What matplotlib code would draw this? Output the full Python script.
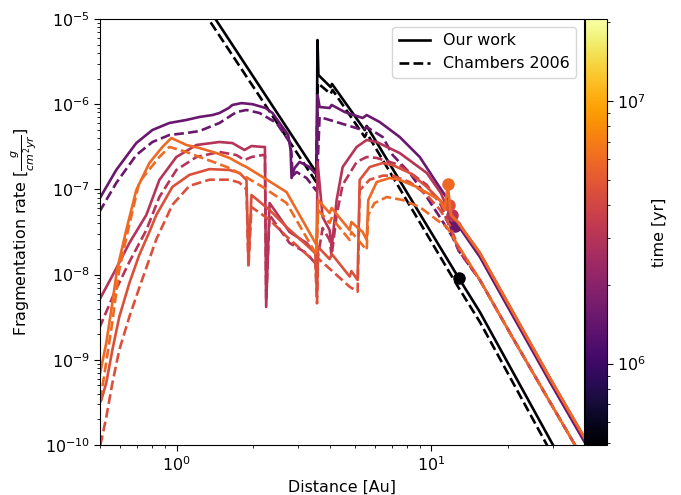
import numpy as np
import matplotlib
matplotlib.use('Agg')
import matplotlib.pyplot as plt
from matplotlib.colors import LogNorm
from matplotlib.lines import Line2D

plt.rcParams['font.size'] = 11.4
plt.rcParams['xtick.major.size'] = 4
plt.rcParams['ytick.major.size'] = 4
plt.rcParams['xtick.minor.size'] = 2.3
plt.rcParams['ytick.minor.size'] = 2.3

# times of the snapshots [yr]
times = [4.9e5, 1.5e6, 3.0e6, 4.5e6, 6.0e6]

# common tail beyond ~12 Au (all snapshots overlap there)
tail_x = [15.49, 20.87, 29.17, 39.7, 41.9]
tail_solid = [1.79e-8, 3.64e-9, 6.1e-10, 1.24e-10, 9.5e-11]
tail_solid_purple = [1.61e-8, 3.27e-9, 5.49e-10, 1.11e-10, 8.6e-11]
tail_dash_x = [15.49, 20.87, 29.17, 36.59, 41.9]
tail_dash = [8.64e-9, 1.80e-9, 3.2e-10, 1.0e-10, 4.95e-11]

# t = 0.5 Myr
black_x = [1.2, 1.419, 3.54, 3.57, 3.6, 4.02, 4.07, 5.47, 5.57, 12.8, 15.49, 30.0, 36.6]
black_y = [2.14e-5, 1.0e-5, 1.56e-7, 5.67e-6, 2.2e-6, 1.59e-6, 1.73e-6, 4.98e-7, 5.55e-7,
           9.1e-9, 3.64e-9, 1.0e-10, 3.5e-11]
black_dx = [1.15, 1.332, 3.53, 3.58, 4.02, 4.09, 5.47, 5.57, 12.8, 15.49, 28.4, 33.4]
black_dy = [1.95e-5, 1.0e-5, 1.22e-7, 1.77e-6, 1.32e-6, 1.47e-6, 4.12e-7, 4.59e-7,
            6.97e-9, 2.78e-9, 1.0e-10, 3.9e-11]

# t = 1.5 Myr
purple_x = [0.497, 0.579, 0.694, 0.803, 0.936, 1.092, 1.228, 1.382, 1.472, 1.60, 1.655, 1.796,
            1.985, 2.233, 2.378, 2.534, 2.74, 2.80, 2.824, 2.902, 3.036, 3.323, 3.541, 3.573,
            3.639, 3.984, 4.057, 4.563, 5.37, 5.568, 6.263, 7.507, 8.995, 10.49, 11.49, 12.02,
            12.35, 12.69]
purple_y = [7.71e-8, 1.69e-7, 3.5e-7, 4.98e-7, 6.02e-7, 6.53e-7, 7.08e-7, 7.46e-7, 7.88e-7,
            9.02e-7, 9.8e-7, 1.03e-6, 1.0e-6, 9.02e-7, 7.88e-7, 6.02e-7, 4.35e-7, 2.9e-7,
            1.36e-7, 1.78e-7, 2.1e-7, 1.83e-7, 1.48e-7, 1.28e-6, 9.27e-7, 9.02e-7, 9.8e-7,
            8.1e-7, 6.89e-7, 7.46e-7, 6.18e-7, 4.12e-7, 2.4e-7, 1.19e-7, 7.93e-8, 3.16e-8,
            3.72e-8, 3.82e-8]
purple_dx = [0.497, 0.579, 0.694, 0.803, 0.936, 1.092, 1.228, 1.472, 1.717, 1.879, 2.114, 2.466,
             2.773, 2.82, 2.85, 2.955, 3.234, 3.541, 3.639, 3.984, 4.361, 5.37, 5.568, 6.436,
             7.045, 8.217, 9.583, 10.78, 12.1, 12.8]
purple_dy = [5.43e-8, 1.19e-7, 2.53e-7, 3.6e-7, 4.35e-7, 4.59e-7, 4.84e-7, 6.02e-7, 8.1e-7,
             8.55e-7, 7.88e-7, 6.02e-7, 3.6e-7, 2.75e-7, 1.44e-7, 1.6e-7, 1.36e-7, 9.57e-8,
             7.08e-7, 6.53e-7, 6.02e-7, 4.98e-7, 5.4e-7, 4.12e-7, 2.53e-7, 1.56e-7, 8.14e-8,
             4.74e-8, 2.76e-8, 1.9e-8]

# t = 3 Myr
magenta_x = [0.497, 0.569, 0.652, 0.760, 0.855, 0.997, 1.195, 1.472, 1.655, 1.845, 1.966, 2.173,
             2.22, 2.245, 2.315, 2.466, 2.773, 3.234, 3.541, 3.573, 3.739, 3.984, 4.057, 4.244,
             4.481, 5.087, 5.568, 6.095, 7.507, 9.583, 10.88, 11.7, 12.0, 12.69]
magenta_y = [5.03e-9, 1.07e-8, 2.35e-8, 5.01e-8, 1.29e-7, 2.4e-7, 3.32e-7, 3.6e-7, 3.5e-7,
             2.9e-7, 3.23e-7, 3.15e-7, 3.15e-7, 4.17e-9, 6.92e-8, 5.28e-8, 3.16e-8, 2.35e-8,
             1.7e-8, 2.1e-7, 4.74e-8, 3.33e-8, 2.05e-8, 7.5e-8, 1.83e-7, 3.15e-7, 3.8e-7, 3.6e-7,
             2.67e-7, 1.56e-7, 9.08e-8, 5.5e-8, 5.0e-8, 4.1e-8]
magenta_dx = [0.497, 0.569, 0.652, 0.760, 0.855, 0.997, 1.195, 1.472, 1.717, 1.845, 1.966, 2.173,
              2.22, 2.245, 2.315, 2.466, 2.773, 3.234, 3.541, 3.739, 3.984, 4.057, 4.244, 4.481,
              5.087, 5.568, 6.095, 7.507, 9.583, 10.88, 12.35, 12.8]
magenta_dy = [2.36e-9, 6.08e-9, 1.41e-8, 3.33e-8, 8.14e-8, 1.69e-7, 2.4e-7, 2.75e-7, 2.53e-7,
              2.21e-7, 2.4e-7, 2.53e-7, 2.53e-7, 5.03e-9, 5.01e-8, 3.82e-8, 2.35e-8, 1.79e-8,
              1.3e-8, 3.52e-8, 2.55e-8, 1.65e-8, 5.01e-8, 1.13e-7, 2.1e-7, 2.4e-7, 2.34e-7,
              1.93e-7, 1.13e-7, 6.56e-8, 2.55e-8, 1.9e-8]

# t = 4.5 Myr
red_x = [0.497, 0.505, 0.529, 0.559, 0.595, 0.652, 0.713, 0.781, 0.832, 0.962, 1.122, 1.345,
         1.611, 1.764, 1.879, 1.913, 1.966, 2.315, 2.699, 3.50, 3.555, 3.59, 3.984, 4.057,
         4.775, 4.85, 5.13, 5.227, 5.722, 6.436, 7.045, 8.217, 9.583, 10.78, 11.49, 11.75,
         12.0, 12.69]
red_y = [3.11e-10, 3.3e-10, 5.35e-10, 1.3e-9, 3.18e-9, 7.96e-9, 1.7e-8, 3.16e-8, 5.01e-8,
         1.07e-7, 1.48e-7, 1.73e-7, 1.69e-7, 1.56e-7, 1.29e-7, 1.37e-8, 8.6e-8, 5.73e-8,
         3.62e-8, 1.79e-8, 5.46e-9, 2.11e-8, 1.52e-8, 1.75e-8, 9.5e-9, 1.1e-8, 8.64e-9,
         1.29e-7, 1.83e-7, 2.04e-7, 1.93e-7, 1.56e-7, 1.07e-7, 7.5e-8, 6.21e-8, 6.5e-8,
         5.0e-8, 4.14e-8]
red_dx = [0.502, 0.529, 0.559, 0.595, 0.652, 0.713, 0.832, 0.962, 1.122, 1.345, 1.611, 1.764,
          1.879, 1.913, 1.966, 2.315, 2.699, 3.50, 3.555, 3.59, 4.775, 5.13, 5.227, 5.722,
          6.436, 7.045, 8.217, 9.583, 10.78, 11.8, 12.69]
red_dy = [1.0e-10, 2.1e-10, 5.3e-10, 1.3e-9, 3.2e-9, 7.0e-9, 2.6e-8, 6.6e-8, 1.1e-7, 1.3e-7,
          1.3e-7, 1.2e-7, 1.0e-7, 1.2e-8, 6.2e-8, 4.4e-8, 2.8e-8, 1.4e-8, 4.6e-9, 1.55e-8,
          7.2e-9, 6.3e-9, 9.8e-8, 1.3e-7, 1.45e-7, 1.45e-7, 1.22e-7, 8.6e-8, 5.8e-8, 3.8e-8,
          2.2e-8]

# t = 6 Myr
orange_x = [0.497, 0.529, 0.559, 0.583, 0.634, 0.694, 0.781, 0.879, 0.953, 1.092, 1.228,
            1.432, 1.611, 1.81, 1.879, 2.173, 2.699, 3.541, 3.59, 3.984, 4.057, 4.775, 4.85,
            5.37, 5.568, 5.65, 6.095, 6.856, 7.507, 8.755, 10.78, 11.28, 11.59, 11.91, 12.69]
orange_y = [6.28e-10, 1.57e-9, 4.64e-9, 1.13e-8, 3.33e-8, 9.8e-8, 2.04e-7, 3.15e-7, 4.01e-7,
            3.32e-7, 3.06e-7, 2.67e-7, 2.34e-7, 1.93e-7, 1.83e-7, 1.4e-7, 9.3e-8, 2.22e-8,
            7.5e-8, 5.28e-8, 6.05e-8, 3.33e-8, 4.14e-8, 3.16e-8, 2.55e-8, 7.5e-8, 1.22e-7,
            1.36e-7, 1.29e-7, 1.07e-7, 7.5e-8, 5.73e-8, 1.16e-7, 5.01e-8, 4.14e-8]
orange_dx = [0.502, 0.529, 0.559, 0.595, 0.634, 0.713, 0.855, 0.936, 1.092, 1.228, 1.432, 1.611,
             1.81, 2.173, 2.699, 3.541, 3.59, 3.984, 4.057, 4.775, 4.85, 5.568, 5.65, 5.97, 6.68,
             7.71, 8.995, 10.78, 11.49, 12.69]
orange_dy = [3.38e-10, 9.42e-10, 2.78e-9, 1.13e-8, 2.69e-8, 1.22e-7, 2.4e-7, 3.15e-7, 2.75e-7,
             2.4e-7, 2.04e-7, 1.78e-7, 1.48e-7, 1.07e-7, 6.92e-8, 1.7e-8, 5.73e-8, 4.03e-8,
             4.62e-8, 2.55e-8, 3.16e-8, 1.94e-8, 5.01e-8, 6.9e-8, 8.14e-8, 7.5e-8, 6.21e-8,
             4.14e-8, 3.62e-8, 2.22e-8]

# dots (position of the largest body)
dot_x = [12.8, 12.35, 12.0, 11.75, 11.59]
dot_y = [9.1e-9, 3.72e-8, 5.0e-8, 6.5e-8, 1.16e-7]


cmap = plt.get_cmap('inferno')
norm = LogNorm(vmin=4.9e5, vmax=2.05e7)

fig = plt.figure(figsize=(6.81, 4.95), dpi=100)
ax = fig.add_axes([100/681, 50/495, 484/681, 426/495])
cax = fig.add_axes([585/681, 50/495, 22/681, 426/495])

curves = [
    (black_x, black_y, black_dx, black_dy, None, None),
    (purple_x, purple_y, purple_dx, purple_dy, tail_solid_purple, tail_dash),
    (magenta_x, magenta_y, magenta_dx, magenta_dy, tail_solid, tail_dash),
    (red_x, red_y, red_dx, red_dy, tail_solid, tail_dash),
    (orange_x, orange_y, orange_dx, orange_dy, tail_solid, tail_dash),
]

for i, (xs, ys, dxs, dys, ts, td) in enumerate(curves):
    c = cmap(norm(times[i]))
    if ts is not None:
        xs = xs + tail_x
        ys = ys + ts
        dxs = dxs + tail_dash_x
        dys = dys + td
    ax.plot(xs, ys, '-', color=c, lw=1.9)
    ax.plot(dxs, dys, '--', color=c, lw=1.9)
    ax.plot(dot_x[i], dot_y[i], 'o', color=c, ms=8)

ax.set_xscale('log')
ax.set_yscale('log')
ax.set_xlim(0.5, 39.7)
ax.set_ylim(1e-10, 1e-5)
ax.set_xlabel('Distance [Au]')
ax.set_ylabel(r'Fragmentation rate [$\frac{g}{cm^2yr}$]')

handles = [Line2D([0], [0], color='k', ls='-', lw=1.9),
           Line2D([0], [0], color='k', ls='--', lw=1.9)]
ax.legend(handles, ['Our work', 'Chambers 2006'], loc='upper right')

sm = plt.cm.ScalarMappable(cmap=cmap, norm=norm)
sm.set_array([])
cb = fig.colorbar(sm, cax=cax)
cb.set_label('time [yr]')

fig.savefig('out.png', dpi=100)
